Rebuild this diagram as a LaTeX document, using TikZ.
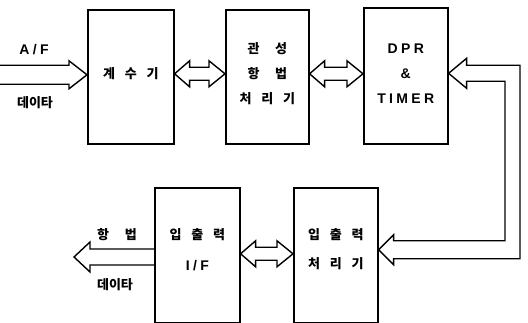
\documentclass[tikz,border=0pt]{standalone}
\usepackage{fontspec}
\setmainfont{Liberation Sans}
\newfontfamily\kr{Noto Sans CJK KR}
\newfontfamily\lat{Liberation Sans}[LetterSpace=24]
\usetikzlibrary{calc}
% gap between spaced hangul syllables
\newcommand\ks{\hspace{0.75em}}
\newcommand\kw{\hspace{1.2em}}
% hollow block arrow with a head at both ends
\newcommand\dblarrow[2]{%
  \draw[arr] let \p1=(#1), \p2=(#2) in
    (\p1) -- (\x1+15pt,\y1+13pt) -- (\x1+15pt,\y1+6.5pt)
    -- (\x2-16pt,\y1+6.5pt) -- (\x2-16pt,\y1+13pt) -- (\x2,\y1)
    -- (\x2-16pt,\y1-13pt) -- (\x2-16pt,\y1-6.5pt)
    -- (\x1+15pt,\y1-6.5pt) -- (\x1+15pt,\y1-13pt) -- cycle;}
\begin{document}
\begin{tikzpicture}[x=1pt,y=-1pt,
  box/.style={draw,line width=1.6pt,inner sep=0,anchor=north west},
  arr/.style={draw,line width=1.4pt,line join=miter},
  kt/.style={font=\kr\bfseries\fontsize{13}{25}\selectfont,align=center,inner sep=0},
  lt/.style={font=\lat\bfseries\fontsize{14}{25}\selectfont,align=center,inner sep=0}]
\useasboundingbox (0,0) rectangle (528,323);

% processing blocks
\node[box,minimum width=86pt,minimum height=134pt] (b1) at (87,9) {};
\node[box,minimum width=83pt,minimum height=134pt] (b2) at (225,9) {};
\node[box,minimum width=84pt,minimum height=136pt] (b3) at (363,7) {};
\node[box,minimum width=85pt,minimum height=135pt] (b4) at (154,187) {};
\node[box,minimum width=84pt,minimum height=135pt] (b5) at (293,187) {};

% block captions
\node[kt] (t1) at ([yshift=3pt]b1.center) {계\ks 수\ks 기};
\node[kt] (t2) at ([yshift=3pt]b2.center) {관\kw 성\\항\kw 법\\처\ks 리\ks 기};
\node[lt] (t3) at ([yshift=2.5pt]b3.center) {DPR\\\&\\TIMER};
\node[kt] (t4a) at ([yshift=21pt]b4.center) {입\ks 출\ks 력};
\node[lt] (t4b) at ([yshift=-10pt]b4.center) {I/F};
\node[kt] (t5a) at ([yshift=21pt]b5.center) {입\ks 출\ks 력};
\node[kt] (t5b) at ([yshift=-8.5pt]b5.center) {처\ks 리\ks 기};

% data buses between blocks
\dblarrow{[yshift=3pt]b1.east}{b2.west}
\dblarrow{[yshift=3pt]b2.east}{b3.west}
\dblarrow{[yshift=1.5pt]b4.east}{b5.west}

% input bus
\coordinate (src) at (0,74);
\draw[arr] let \p1=(src), \p2=([yshift=2pt]b1.west) in
  (\x1,\y2+9.5pt) -- (\x2-18pt,\y2+9.5pt) -- (\x2-18pt,\y2+14pt) -- (\p2)
  -- (\x2-18pt,\y2-14pt) -- (\x2-18pt,\y2-9.5pt) -- (\x1,\y2-9.5pt);
\node[lt] (inlab) at (34,50) {A/F};
\node[kt] (indat) at (35,103) {데이타};

% output bus
\coordinate (dst) at (74,257);
\draw[arr] let \p1=(dst), \p2=([yshift=-2.5pt]b4.west) in
  (\x2,\y1+8pt) -- (\x1+16pt,\y1+8pt) -- (\x1+16pt,\y1+15pt) -- (\p1)
  -- (\x1+16pt,\y1-15pt) -- (\x1+16pt,\y1-8pt) -- (\x2,\y1-8pt);
\node[kt] (outlab) at (117,235) {항\kw 법};
\node[kt] (outdat) at (115,285) {데이타};

% return bus from the I/O processor to DPR & TIMER
\coordinate (railo) at (520,0);
\coordinate (raili) at (505,0);
\draw[arr] let \p1=([yshift=2.5pt]b3.east), \p2=([yshift=5.5pt]b5.east),
               \p3=(railo), \p4=(raili) in
  (\p1) -- (\x1+18pt,\y1+15pt) -- (\x1+18pt,\y1+8pt) -- (\x3,\y1+8pt)
  -- (\x3,\y2-9pt) -- (\x2+15pt,\y2-9pt) -- (\x2+15pt,\y2-15pt) -- (\p2)
  -- (\x2+15pt,\y2+15pt) -- (\x2+15pt,\y2+9pt) -- (\x4,\y2+9pt)
  -- (\x4,\y1-8pt) -- (\x1+18pt,\y1-8pt) -- (\x1+18pt,\y1-15pt) -- cycle;
\end{tikzpicture}
\end{document}
